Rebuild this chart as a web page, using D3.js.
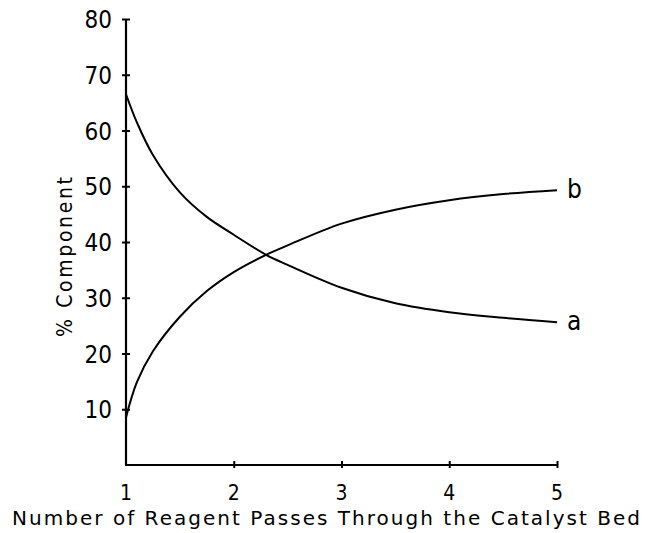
<!DOCTYPE html>
<html>
<head>
<meta charset="utf-8">
<script src="https://cdn.jsdelivr.net/npm/d3@7"></script>
<style>
  body { margin: 0; background: #fff; }
  text { font-family: "DejaVu Sans Condensed", "Liberation Sans Narrow", sans-serif; fill: #000; }
  text.title { font-family: "DejaVu Sans", sans-serif; }
</style>
</head>
<body>
<svg width="652" height="533"></svg>
<script>
// passes through the bed
var passes = [1, 1.1, 1.25, 1.5, 1.75, 2, 2.3, 2.5, 3, 3.5, 4, 4.5, 5]
var compA = [66.5, 61.5, 55.6, 48.9, 44.5, 41.3, 37.7, 35.9, 31.8, 29.0, 27.4, 26.4, 25.6]
var compB = [8.5, 14.8, 20.4, 26.6, 31.2, 34.6, 37.7, 39.4, 43.3, 45.8, 47.5, 48.6, 49.3]
var xTicks = [1, 2, 3, 4, 5]
var yTicks = [10, 20, 30, 40, 50, 60, 70, 80]
var seriesNames = ['a', 'b']

var svg = d3.select('svg')
var x = d3.scaleLinear().domain([1, 5]).range([126, 557])
var y = d3.scaleLinear().domain([0, 80]).range([465, 19])

// axes: d3 axis with ticks crossing the line
var yAxis = svg.append('g').attr('transform', 'translate(126,0)')
    .call(d3.axisLeft(y).tickValues(yTicks).tickSize(4).tickFormat(''))
yAxis.select('.domain').remove()
yAxis.selectAll('.tick line').attr('x2', 4).attr('x1', -4).attr('stroke-width', 2)
yAxis.append('line').attr('x1', 0).attr('x2', 0).attr('y1', y(80)).attr('y2', y(0))
    .attr('stroke', '#000').attr('stroke-width', 2.2)

var xAxis = svg.append('g').attr('transform', 'translate(0,465)')
    .call(d3.axisBottom(x).tickValues(xTicks.slice(1)).tickSize(4).tickFormat(''))
xAxis.select('.domain').remove()
xAxis.selectAll('.tick line').attr('y1', -4).attr('y2', 3).attr('stroke-width', 2)
xAxis.append('line').attr('x1', x(1) - 1).attr('x2', x(5)).attr('y1', 0).attr('y2', 0)
    .attr('stroke', '#000').attr('stroke-width', 2.2)

// tick labels
svg.append('g').selectAll('text').data(yTicks).enter().append('text')
    .attr('x', 112).attr('y', function (d) { return y(d) + 9 })
    .attr('text-anchor', 'end').attr('font-size', 24)
    .text(function (d) { return d })
svg.append('g').selectAll('text').data(xTicks).enter().append('text')
    .attr('x', function (d) { return x(d) }).attr('y', 500)
    .attr('text-anchor', 'middle').attr('font-size', 21)
    .text(function (d) { return d })

// curves
var line = d3.line()
    .x(function (d) { return x(d[0]) })
    .y(function (d) { return y(d[1]) })
    .curve(d3.curveCatmullRom.alpha(0.5))
var series = [compA, compB]
series.forEach(function (vals, i) {
    var pts = passes.map(function (p, j) { return [p, vals[j]] })
    svg.append('path').datum(pts).attr('d', line)
        .attr('fill', 'none').attr('stroke', '#000').attr('stroke-width', 2)
    svg.append('text')
        .attr('x', x(5) + 10).attr('y', y(vals[vals.length - 1]) + 8)
        .attr('font-size', 26)
        .text(seriesNames[i])
})

// axis titles
svg.append('text').attr('class', 'title').attr('x', 12).attr('y', 525)
    .attr('font-size', 20).attr('textLength', 628).attr('lengthAdjust', 'spacing')
    .text('Number of Reagent Passes Through  the Catalyst Bed')
svg.append('text').attr('transform', 'translate(72,257) rotate(-90)')
    .attr('text-anchor', 'middle').attr('font-size', 21)
    .attr('textLength', 160).attr('lengthAdjust', 'spacing')
    .text('% Component')
</script>
</body>
</html>
